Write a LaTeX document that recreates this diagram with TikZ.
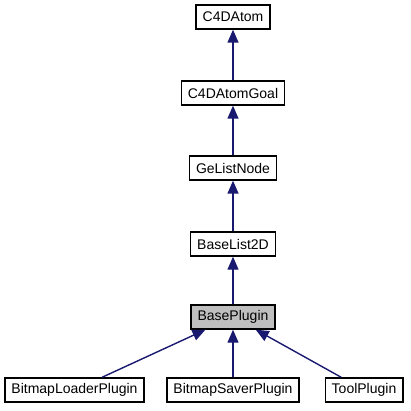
\documentclass[tikz,border=0pt]{standalone}
\usepackage{fontspec}
\setmainfont{Liberation Sans}
\usetikzlibrary{arrows.meta}
\definecolor{edgeblue}{HTML}{191970}
\definecolor{basegray}{HTML}{BFBFBF}

\begin{document}
\begin{tikzpicture}[x=1pt, y=-1pt,
    cls/.style={draw=black, line width=1.4pt, fill=white, minimum height=24pt, inner xsep=6.5pt, font=\fontsize{14}{15}\selectfont},
    inherit/.style={draw=edgeblue, line width=1.4pt, -{Triangle[length=13pt, width=11pt, fill=edgeblue]}}]
    \useasboundingbox (0,0) rectangle (411,411);

    % Main chain of base classes
    \node[cls] (atom) at (233,17) {C4DAtom};
    \node[cls] (goal) at (233,93) {C4DAtomGoal};
    \node[cls] (glist) at (233,168) {GeListNode};
    \node[cls] (blist) at (233,244) {BaseList2D};
    \node[cls, fill=basegray] (bplug) at (233,317) {BasePlugin};

    % Derived plugins (bottom row)
    \node[cls] (loader) at (74.5,390) {BitmapLoaderPlugin};
    \node[cls] (saver) at (233,390) {BitmapSaverPlugin};
    \node[cls] (tool) at (364,390) {ToolPlugin};

    % Inheritance arrows
    \foreach \child/\parent in {goal/atom, glist/goal, blist/glist, bplug/blist, loader/bplug, saver/bplug, tool/bplug}
        \draw[inherit] (\child) -- (\parent);

\end{tikzpicture}
\end{document}
